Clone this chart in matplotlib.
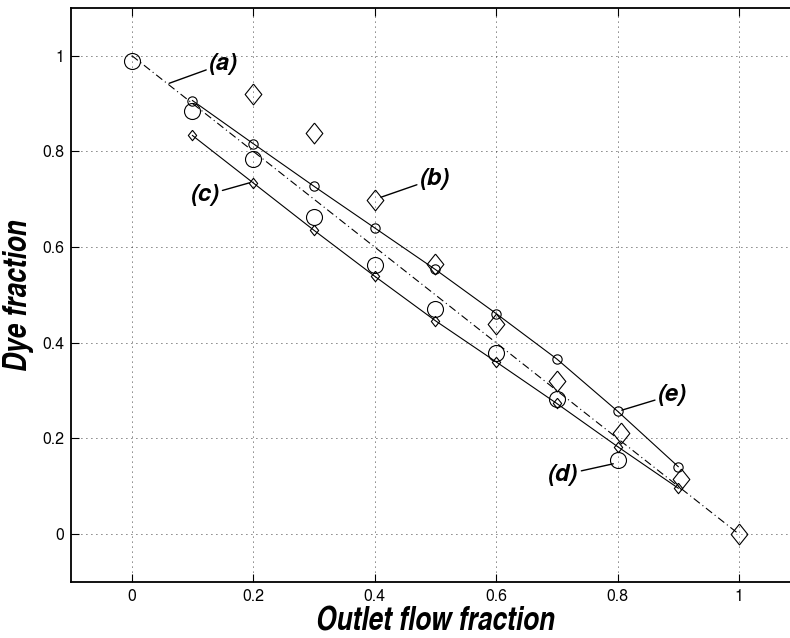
import matplotlib.pyplot as plt
import numpy as np

plt.rcParams['font.family'] = ['TeX Gyre Heros', 'Liberation Sans', 'DejaVu Sans']

# theoretical line (a)
line_a_x = [0.0, 1.0]
line_a_y = [1.0, 0.0]

# (b) large diamonds, no line
b_x = [0.2, 0.3, 0.4, 0.5, 0.6, 0.7, 0.805, 0.905, 1.0]
b_y = [0.920, 0.839, 0.699, 0.565, 0.440, 0.320, 0.211, 0.115, 0.0]

# (c) small diamonds with line
c_x = [0.1, 0.2, 0.3, 0.4, 0.5, 0.6, 0.7, 0.8, 0.9]
c_y = [0.833, 0.734, 0.635, 0.539, 0.446, 0.360, 0.273, 0.183, 0.096]

# (d) large circles, no line
d_x = [0.0, 0.1, 0.2, 0.3, 0.4, 0.5, 0.6, 0.7, 0.8]
d_y = [0.988, 0.885, 0.784, 0.663, 0.562, 0.471, 0.378, 0.282, 0.154]

# (e) small circles with line
e_x = [0.1, 0.2, 0.3, 0.4, 0.5, 0.6, 0.7, 0.8, 0.9]
e_y = [0.906, 0.816, 0.727, 0.640, 0.553, 0.461, 0.366, 0.257, 0.141]

# annotation labels, pointed-at points, text centres
ann_labels = ['(a)', '(b)', '(c)', '(d)', '(e)']
ann_xy = [(0.0616, 0.942), (0.4105, 0.704), (0.1937, 0.734), (0.793, 0.147), (0.807, 0.259)]
ann_text = [(0.151, 0.983), (0.499, 0.743), (0.121, 0.708), (0.711, 0.124), (0.890, 0.291)]

x_ticks = [0, 0.2, 0.4, 0.6, 0.8, 1]
y_ticks = [0, 0.2, 0.4, 0.6, 0.8, 1]
tick_text = ['0', '0.2', '0.4', '0.6', '0.8', '1']

diamond = [(0, 1), (0.8, 0), (0, -1), (-0.8, 0), (0, 1)]

fig = plt.figure(figsize=(7.9, 6.38), dpi=100)
ax = fig.add_axes([71/790, 56/638, 728.7/790, 574.3/638])

ax.plot(line_a_x, line_a_y, color='black', lw=0.8, linestyle=(0, (7, 3, 1, 3)))
ax.plot(b_x, b_y, linestyle='none', marker=diamond, markersize=15,
        markerfacecolor='none', markeredgecolor='black', markeredgewidth=0.8)
ax.plot(c_x, c_y, color='black', lw=0.8, marker=diamond, markersize=7.5,
        markerfacecolor='none', markeredgecolor='black', markeredgewidth=0.8)
ax.plot(d_x, d_y, linestyle='none', marker='o', markersize=11.5,
        markerfacecolor='none', markeredgecolor='black', markeredgewidth=0.8)
ax.plot(e_x, e_y, color='black', lw=0.8, marker='o', markersize=6.7,
        markerfacecolor='none', markeredgecolor='black', markeredgewidth=0.8)

for lab, xy, txy in zip(ann_labels, ann_xy, ann_text):
    ax.annotate(lab, xy=xy, xytext=txy, ha='center', va='center',
                fontsize=17, fontweight='bold', fontstyle='italic',
                arrowprops=dict(arrowstyle='-', color='black', lw=1.0, shrinkA=0, shrinkB=0))

ax.set_xlim(-0.1, 1.1)
ax.set_ylim(-0.1, 1.1)
ax.set_xticks(x_ticks)
ax.set_yticks(y_ticks)
ax.set_xticklabels(tick_text)
ax.set_yticklabels(tick_text)
ax.tick_params(direction='in', length=6, width=0.8, top=True, right=True,
               labelsize=11.5, pad=5)
ax.grid(True, color='black', linestyle=(0, (1, 5)), lw=0.6)
for s in ax.spines.values():
    s.set_linewidth(1.3)

label_font = dict(family=['TeX Gyre Heros Cn', 'TeX Gyre Heros'],
                  fontsize=23, fontweight='bold', fontstyle='italic')
ax.set_xlabel('Outlet flow fraction', labelpad=1, **label_font)
ax.set_ylabel('Dye fraction', labelpad=6, **label_font)

fig.savefig('out.png', dpi=100)
